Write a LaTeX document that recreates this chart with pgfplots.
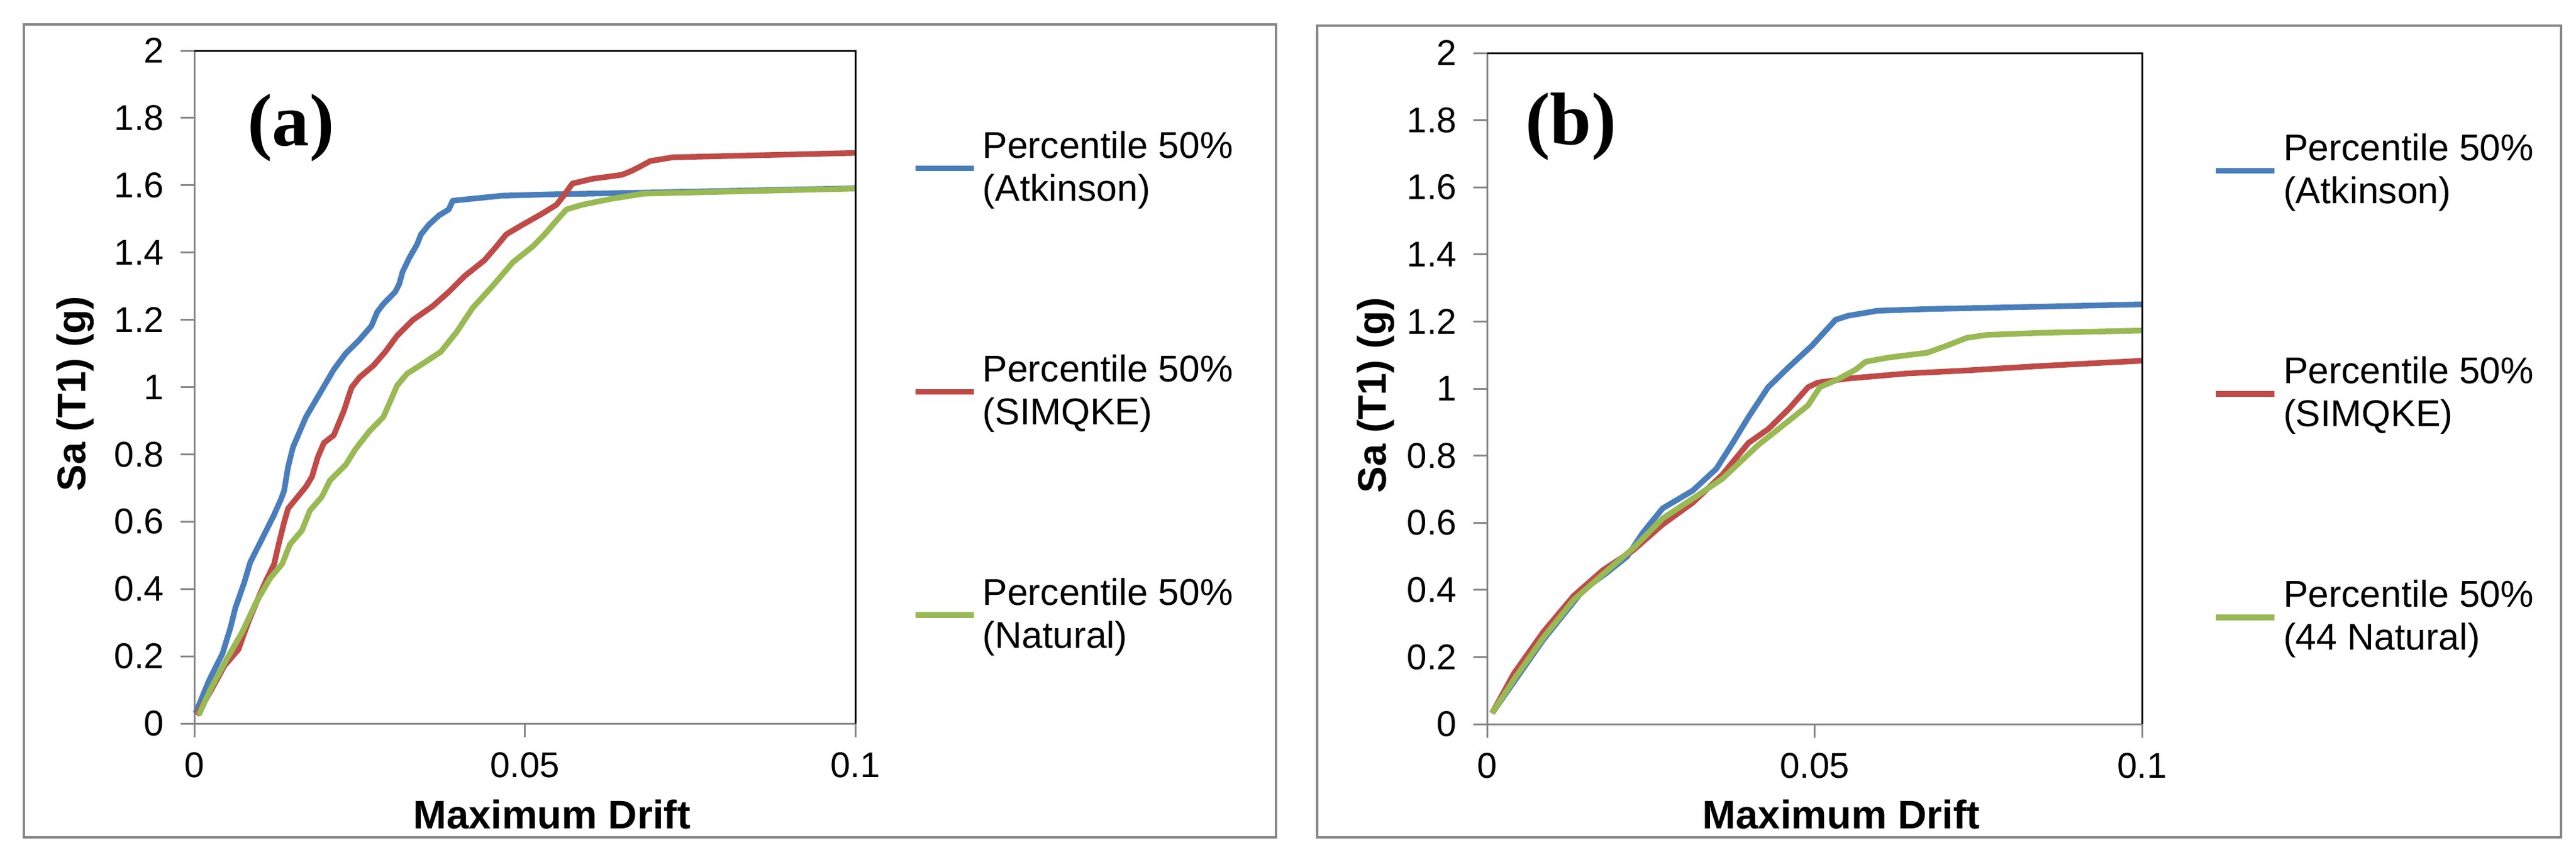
\documentclass[border=0pt]{standalone}
\usepackage{fontspec}
\setmainfont{Liberation Sans}
\newfontfamily\serifbf{Liberation Serif}
\usepackage{pgfplots}
\pgfplotsset{compat=1.18}

\definecolor{xlblue}{HTML}{4A7EBB}
\definecolor{xlred}{HTML}{BE4B48}
\definecolor{xlgreen}{HTML}{98B954}
\definecolor{axgray}{HTML}{868686}

\pgfplotsset{
  driftaxis/.style={
    scale only axis,
    anchor=south west,
    xmin=0, xmax=0.1, ymin=0, ymax=2,
    xtick={0,0.05,0.1}, xticklabels={0,0.05,0.1},
    ytick={0,0.2,...,2.01},
    yticklabels={0,0.2,0.4,0.6,0.8,1,1.2,1.4,1.6,1.8,2},
    axis x line*=bottom, axis y line*=left,
    axis line style={draw=axgray, line width=0.6pt, -},
    tick align=outside, major tick length=4.6pt,
    tick style={draw=axgray, line width=0.6pt},
    ticklabel style={font=\fontsize{12}{14}\selectfont},
    yticklabel style={xshift=-2pt},
    xticklabel style={yshift=-1.5pt},
    label style={font=\fontsize{13.4}{16}\selectfont\bfseries},
    xlabel={Maximum Drift},
    ylabel={Sa (T1) (g)},
    xlabel style={at={(axis description cs:0.541,-0.135)}, anchor=center},
    ylabel style={at={(axis description cs:-0.18,0.49)}, anchor=center, rotate=0},
    every axis plot/.append style={line width=1.9pt, line join=round, no marks},
    legend style={draw=none, fill=none, inner sep=0pt, anchor=north west,
      font=\fontsize{12.5}{14.4}\selectfont,
      cells={align=left, anchor=west}, row sep=46pt},
    legend image code/.code={\draw[#1] (0pt,0pt) -- (19.6pt,0pt);},
    clip=false,
  }
}

\begin{document}
\begin{tikzpicture}
\useasboundingbox (0,0) rectangle (864.4pt,287.4pt);
\draw[axgray, line width=0.7pt] (8pt,6.4pt) rectangle (428.2pt,279.2pt);
\draw[axgray, line width=0.7pt] (442pt,6.4pt) rectangle (859.4pt,278.8pt);

% ---- (a)
\begin{axis}[driftaxis, at={(65.2pt,44.6pt)}, width=221.8pt, height=225.8pt,
  legend style={at={(axis description cs:1.0857,0.89)}}]
\addplot[xlblue] coordinates {
(0.0002,0.031) (0.00216,0.125) (0.00427,0.208) (0.00547,0.285) (0.00622,0.344)
(0.00757,0.42) (0.00848,0.48) (0.00938,0.515) (0.01058,0.562) (0.01208,0.621)
(0.01314,0.668) (0.01359,0.692) (0.01419,0.763) (0.01494,0.822) (0.01584,0.863)
(0.01689,0.911) (0.0211,1.052) (0.0229,1.10) (0.025,1.141) (0.0268,1.182)
(0.0277,1.224) (0.0286,1.247) (0.0304,1.283) (0.031,1.306) (0.0315,1.342)
(0.0325,1.383) (0.0337,1.424) (0.0343,1.454) (0.0355,1.483) (0.037,1.51)
(0.0385,1.528) (0.0391,1.554) (0.0466,1.569) (0.0542,1.573) (0.068,1.578)
(0.1,1.591)};
\addlegendentry{Percentile 50\%\\(Atkinson)}
\addplot[xlred] coordinates {
(0.00036,0.025) (0.00246,0.096) (0.00457,0.172) (0.00667,0.22) (0.00818,0.302)
(0.00968,0.373) (0.01088,0.426) (0.01208,0.474) (0.01269,0.527) (0.01359,0.598)
(0.01419,0.639) (0.01539,0.668) (0.01689,0.704) (0.01779,0.733) (0.01869,0.792)
(0.0196,0.834) (0.0211,0.857) (0.0226,0.928) (0.0238,0.999) (0.025,1.029)
(0.0271,1.064) (0.0289,1.105) (0.0307,1.153) (0.0331,1.2) (0.0361,1.241)
(0.0385,1.283) (0.0409,1.33) (0.0439,1.377) (0.0457,1.418) (0.0472,1.454)
(0.0497,1.483) (0.0524,1.513) (0.0548,1.542) (0.056,1.572) (0.0572,1.605)
(0.0602,1.619) (0.0647,1.631) (0.0662,1.643) (0.0674,1.655) (0.069,1.672)
(0.0724,1.683) (0.1,1.696)};
\addlegendentry{Percentile 50\%\\(SIMQKE)}
\addplot[xlgreen] coordinates {
(0.00066,0.025) (0.00246,0.102) (0.00487,0.19) (0.00728,0.273) (0.00938,0.361)
(0.01148,0.432) (0.01328,0.474) (0.01449,0.533) (0.01629,0.574) (0.01749,0.633)
(0.0193,0.674) (0.0205,0.722) (0.0229,0.769) (0.0244,0.816) (0.0265,0.869)
(0.0286,0.911) (0.0307,1.005) (0.0322,1.04) (0.0346,1.07) (0.0373,1.105)
(0.0397,1.164) (0.0421,1.235) (0.0451,1.3) (0.0482,1.371) (0.0512,1.418)
(0.053,1.454) (0.0548,1.495) (0.0563,1.528) (0.0587,1.542) (0.0632,1.56)
(0.068,1.575) (0.1,1.59)};
\addlegendentry{Percentile 50\%\\(Natural)}
\draw[black, line width=0.6pt] (rel axis cs:0,1) -- (rel axis cs:1,1) -- (rel axis cs:1,0);
\node[font=\serifbf\bfseries\fontsize{25}{28}\selectfont] at (axis cs:0.0146,1.77) {(a)};
\end{axis}

% ---- (b)
\begin{axis}[driftaxis, at={(499pt,44.4pt)}, width=219.8pt, height=225.2pt,
  ylabel style={at={(axis description cs:-0.17,0.49)}},
  legend style={at={(axis description cs:1.1078,0.89)}}]
\addplot[xlblue] coordinates {
(0.00076,0.0325) (0.0086,0.252) (0.0147,0.4) (0.0184,0.453) (0.0214,0.5)
(0.0238,0.571) (0.0268,0.643) (0.0314,0.696) (0.035,0.761) (0.0375,0.838)
(0.0399,0.915) (0.0429,1.004) (0.046,1.063) (0.0496,1.128) (0.0532,1.205)
(0.0551,1.217) (0.0596,1.232) (0.0672,1.237) (0.0842,1.244) (0.1,1.251)};
\addlegendentry{Percentile 50\%\\(Atkinson)}
\addplot[xlred] coordinates {
(0.00076,0.0325) (0.0041,0.151) (0.0086,0.275) (0.0132,0.382) (0.0177,0.459)
(0.0223,0.518) (0.0268,0.595) (0.0314,0.66) (0.0359,0.743) (0.0399,0.838)
(0.0429,0.879) (0.046,0.938) (0.049,1.004) (0.0505,1.018) (0.0551,1.03)
(0.0641,1.045) (0.0732,1.054) (0.0842,1.067) (0.1,1.083)};
\addlegendentry{Percentile 50\%\\(SIMQKE)}
\addplot[xlgreen] coordinates {
(0.00076,0.0325) (0.0041,0.133) (0.0086,0.258) (0.0132,0.37) (0.0177,0.447)
(0.0223,0.524) (0.0268,0.613) (0.0314,0.672) (0.0359,0.731) (0.0414,0.832)
(0.046,0.903) (0.049,0.95) (0.0508,1.004) (0.0535,1.027) (0.0563,1.057)
(0.0578,1.08) (0.0611,1.092) (0.0672,1.107) (0.0702,1.128) (0.0732,1.151)
(0.0763,1.16) (0.0842,1.166) (0.1,1.173)};
\addlegendentry{Percentile 50\%\\(44 Natural)}
\draw[black, line width=0.6pt] (rel axis cs:0,1) -- (rel axis cs:1,1) -- (rel axis cs:1,0);
\node[font=\serifbf\bfseries\fontsize{25}{28}\selectfont] at (axis cs:0.0128,1.78) {(b)};
\end{axis}
\end{tikzpicture}
\end{document}
